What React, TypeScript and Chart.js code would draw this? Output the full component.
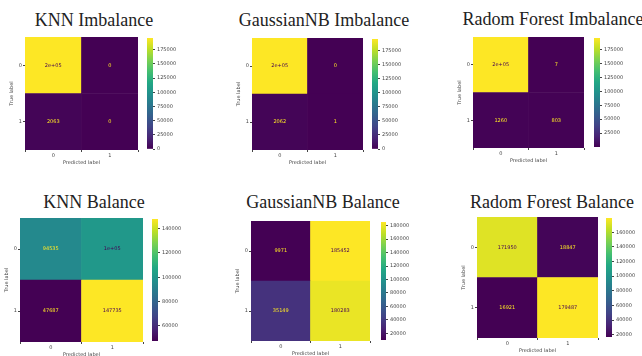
import React, { useEffect, useRef } from 'react';
import { Chart, registerables } from 'chart.js';
Chart.register(...registerables);

// ---- data ----
const PRED_LABELS = ['0', '1'];
const TRUE_LABELS = ['0', '1'];

const KNN_IMB = [[195800, 0], [2063, 0]];
const GNB_IMB = [[195800, 0], [2062, 1]];
const RF_IMB = [[195793, 7], [1260, 803]];
const KNN_BAL = [[94535, 100613], [47687, 147735]];
const GNB_BAL = [[9971, 185452], [35149, 180283]];
const RF_BAL = [[171950, 18847], [16921, 179487]];

const IMB_TICKS = [0, 25000, 50000, 75000, 100000, 125000, 150000, 175000];
const RF_IMB_TICKS = [25000, 50000, 75000, 100000, 125000, 150000, 175000];
const KNN_BAL_TICKS = [60000, 80000, 100000, 120000, 140000];
const GNB_BAL_TICKS = [20000, 40000, 60000, 80000, 100000, 120000, 140000, 160000, 180000];
const RF_BAL_TICKS = [20000, 40000, 60000, 80000, 100000, 120000, 140000, 160000];

const TITLES = [
  'KNN Imbalance',
  'GaussianNB Imbalance',
  'Radom Forest Imbalance',
  'KNN Balance',
  'GaussianNB Balance',
  'Radom Forest Balance',
];

// ---- layout (pixel boxes) ----
type Box = { L: number; T: number; R: number; B: number };
const LAYOUT: { heat: Box; cb: Box; tx: number; ty: number }[] = [
  { heat: { L: 25, T: 37, R: 138, B: 150 }, cb: { L: 147, T: 37, R: 153, B: 150 }, tx: 94, ty: 20 },
  { heat: { L: 252, T: 38, R: 363, B: 150 }, cb: { L: 372, T: 38, R: 378, B: 150 }, tx: 324, ty: 20 },
  { heat: { L: 473, T: 37, R: 584, B: 148 }, cb: { L: 594, T: 37, R: 600, B: 148 }, tx: 553, ty: 19 },
  { heat: { L: 20, T: 218, R: 143, B: 342 }, cb: { L: 152, T: 218, R: 158, B: 342 }, tx: 94, ty: 202 },
  { heat: { L: 251, T: 221, R: 370, B: 341 }, cb: { L: 381, T: 221, R: 386, B: 341 }, tx: 323, ty: 202 },
  { heat: { L: 477, T: 217, R: 598, B: 338 }, cb: { L: 606, T: 217, R: 612, B: 338 }, tx: 552, ty: 202 },
];
const MATRICES = [KNN_IMB, GNB_IMB, RF_IMB, KNN_BAL, GNB_BAL, RF_BAL];
const CB_TICKS = [IMB_TICKS, IMB_TICKS, RF_IMB_TICKS, KNN_BAL_TICKS, GNB_BAL_TICKS, RF_BAL_TICKS];

const VIRIDIS = ['#440154', '#482475', '#414487', '#355f8d', '#2a788e', '#21918c', '#22a884', '#44bf70', '#7ad151', '#bddf26', '#fde725'];

function hexToRgb(h: string) {
  return [parseInt(h.slice(1, 3), 16), parseInt(h.slice(3, 5), 16), parseInt(h.slice(5, 7), 16)];
}
function viridis(t: number) {
  const x = Math.max(0, Math.min(1, t)) * (VIRIDIS.length - 1);
  const i = Math.min(Math.floor(x), VIRIDIS.length - 2);
  const f = x - i;
  const a = hexToRgb(VIRIDIS[i]);
  const b = hexToRgb(VIRIDIS[i + 1]);
  const c = a.map((v, k) => Math.round(v + (b[k] - v) * f));
  return `rgb(${c[0]},${c[1]},${c[2]})`;
}
function fmt(v: number) {
  const d = String(v);
  let g: string;
  if (v === 0) g = '0';
  else if (Math.floor(Math.log10(Math.abs(v))) < 2) g = String(Number(v.toPrecision(2)));
  else {
    const s = v.toExponential(1);
    let [m, e] = s.split('e');
    m = m.replace(/\.0$/, '');
    const sign = e[0];
    let digits = e.slice(1);
    if (digits.length < 2) digits = '0' + digits;
    g = m + 'e' + sign + digits;
  }
  return d.length < g.length ? d : g;
}

const SANS = "'DejaVu Sans', sans-serif";
const SERIF = '"Liberation Serif", "DejaVu Serif", "Times New Roman", Times, serif';
const TXT = '#444';

function Panel({ idx }: { idx: number }) {
  const heatRef = useRef<HTMLCanvasElement>(null);
  const cbRef = useRef<HTMLCanvasElement>(null);
  const { heat, cb } = LAYOUT[idx];
  const cm = MATRICES[idx];
  const ticks = CB_TICKS[idx];
  const flat = cm.flat();
  const vmin = Math.min(...flat);
  const vmax = Math.max(...flat);
  const norm = (v: number) => (v - vmin) / (vmax - vmin);

  const AXW = 17, AXH = 18, PAD = 4, CBW = 34;

  useEffect(() => {
    const textPlugin = {
      id: 'cellText',
      afterDatasetsDraw(chart: any) {
        const ctx = chart.ctx;
        ctx.save();
        ctx.font = `5px ${SANS}`;
        ctx.textAlign = 'center';
        ctx.textBaseline = 'middle';
        const thresh = (vmin + vmax) / 2;
        chart.data.datasets.forEach((ds: any, di: number) => {
          const meta = chart.getDatasetMeta(di);
          meta.data.forEach((el: any, j: number) => {
            const v = ds.values[j];
            ctx.fillStyle = v < thresh ? VIRIDIS[10] : VIRIDIS[0];
            ctx.fillText(fmt(v), el.x, (el.y + el.base) / 2);
          });
        });
        ctx.restore();
      },
    };
    // row "1" (bottom) first, then row "0" (top)
    const rows = [1, 0];
    const hc = new Chart(heatRef.current!, {
      type: 'bar',
      data: {
        labels: PRED_LABELS,
        datasets: rows.map((r) => ({
          label: 'true ' + TRUE_LABELS[r],
          data: cm[r].map(() => 1),
          values: cm[r],
          backgroundColor: cm[r].map((v) => viridis(norm(v))),
          borderWidth: 0,
          barPercentage: 1,
          categoryPercentage: 1,
        })) as any,
      },
      options: {
        responsive: false,
        animation: false,
        events: [],
        layout: { padding: { top: PAD, right: PAD, left: 0, bottom: 0 } },
        plugins: { legend: { display: false }, tooltip: { enabled: false }, title: { display: false } },
        scales: {
          x: {
            stacked: true,
            grid: { drawOnChartArea: false, drawTicks: true, tickLength: 2, color: TXT },
            border: { display: false },
            ticks: { font: { size: 5, family: SANS }, color: TXT, padding: 1 },
            title: { display: true, text: 'Predicted label', font: { size: 5, family: SANS }, color: TXT, padding: { top: 0, bottom: 2 } },
            afterFit: (s: any) => { s.height = AXH; },
          },
          y: {
            stacked: true,
            min: 0,
            max: 2,
            grid: { drawOnChartArea: false, drawTicks: true, tickLength: 2, color: TXT },
            border: { display: false },
            ticks: {
              font: { size: 5, family: SANS }, color: TXT, padding: 1,
              callback: (v: any) => (v === 1.5 ? TRUE_LABELS[0] : TRUE_LABELS[1]),
            },
            afterBuildTicks: (s: any) => { s.ticks = [{ value: 0.5 }, { value: 1.5 }]; },
            title: { display: true, text: 'True label', font: { size: 5, family: SANS }, color: TXT, padding: { top: 1, bottom: 0 } },
            afterFit: (s: any) => { s.width = AXW; },
          },
        },
      } as any,
      plugins: [textPlugin],
    });

    const cc = new Chart(cbRef.current!, {
      type: 'bar',
      data: {
        labels: [''],
        datasets: [{
          data: [[vmin, vmax]],
          borderWidth: 0,
          barPercentage: 1,
          categoryPercentage: 1,
          backgroundColor: (c: any) => {
            const ca = c.chart.chartArea;
            if (!ca) return VIRIDIS[5];
            const g = c.chart.ctx.createLinearGradient(0, ca.bottom, 0, ca.top);
            VIRIDIS.forEach((col, i) => g.addColorStop(i / (VIRIDIS.length - 1), col));
            return g;
          },
        }] as any,
      },
      options: {
        responsive: false,
        animation: false,
        events: [],
        layout: { padding: { top: PAD, bottom: PAD, left: 0, right: 0 } },
        plugins: { legend: { display: false }, tooltip: { enabled: false } },
        scales: {
          x: { display: false },
          y: {
            position: 'right',
            min: vmin,
            max: vmax,
            grid: { drawOnChartArea: false, drawTicks: true, tickLength: 2, color: TXT },
            border: { display: false },
            ticks: { font: { size: 5, family: SANS }, color: TXT, padding: 2, callback: (v: any) => String(v) },
            afterBuildTicks: (s: any) => { s.ticks = ticks.map((v) => ({ value: v })); },
            afterFit: (s: any) => { s.width = CBW - (cb.R - cb.L); },
          },
        },
      } as any,
    });
    return () => { hc.destroy(); cc.destroy(); };
  }, []);

  const hw = heat.R - heat.L + AXW + PAD;
  const hh = heat.B - heat.T + AXH + PAD;
  const cw = CBW;
  const ch = cb.B - cb.T + 2 * PAD;
  return (
    <>
      <canvas ref={heatRef} width={hw} height={hh}
        style={{ position: 'absolute', left: heat.L - AXW, top: heat.T - PAD, width: hw, height: hh }} />
      <canvas ref={cbRef} width={cw} height={ch}
        style={{ position: 'absolute', left: cb.L, top: cb.T - PAD, width: cw, height: ch }} />
      <div style={{
        position: 'absolute', left: LAYOUT[idx].tx - 120, top: LAYOUT[idx].ty - 11, width: 240,
        textAlign: 'center', fontFamily: SERIF, fontSize: 18,
        lineHeight: '22px', color: '#222', whiteSpace: 'nowrap',
      }}>{TITLES[idx]}</div>
    </>
  );
}

export default function App() {
  return (
    <div style={{ position: 'absolute', left: 0, top: 0, width: 642, height: 356, background: '#fff', overflow: 'hidden' }}>
      {LAYOUT.map((_, i) => <Panel key={i} idx={i} />)}
    </div>
  );
}
